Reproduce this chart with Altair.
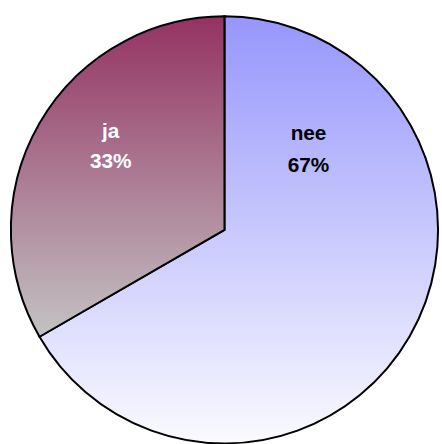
import altair as alt
import pandas as pd

# Survey answers and their response counts
answers = ["nee", "ja"]
counts = [2, 1]
slice_order = [0, 1]

df = pd.DataFrame({"answer": answers, "count": counts, "order": slice_order})
total = df["count"].sum()
df["pct"] = (df["count"] / total * 100).round().astype(int)
df["label"] = [f"{a}\n{p}%" for a, p in zip(df["answer"], df["pct"])]

# Vertical gradients for the two slices
grad_nee = {
    "gradient": "linear", "x1": 0, "y1": 0, "x2": 0, "y2": 1,
    "stops": [{"offset": 0, "color": "#9696fc"}, {"offset": 1, "color": "#fafaff"}],
}
grad_ja = {
    "gradient": "linear", "x1": 0, "y1": 0, "x2": 0, "y2": 1,
    "stops": [{"offset": 0, "color": "#943262"}, {"offset": 1, "color": "#c3c3c3"}],
}

cx, cy, r = 227, 230, 216

base = alt.Chart(df)

pie = base.mark_arc(stroke="black", strokeWidth=2, radius=r, strokeJoin="miter").encode(
    theta=alt.Theta("count:Q", stack=True),
    order=alt.Order("order:Q"),
    fill=alt.condition(alt.datum.answer == "nee", alt.value(grad_nee), alt.value(grad_ja)),
    x=alt.value(cx),
    y=alt.value(cy),
)

text_style = dict(font="Liberation Sans", fontSize=21, fontWeight="bold",
                  lineBreak="\n", align="center", baseline="alphabetic")

label_nee = base.transform_filter(alt.datum.answer == "nee").mark_text(
    color="black", lineHeight=32, **text_style
).encode(text="label:N", x=alt.value(312), y=alt.value(139))

label_ja = base.transform_filter(alt.datum.answer == "ja").mark_text(
    color="white", lineHeight=30, **text_style
).encode(text="label:N", x=alt.value(112), y=alt.value(137))

chart = (
    alt.layer(pie, label_nee, label_ja)
    .properties(width=442, height=444, padding=0, background="white")
    .configure_view(stroke=None)
)

chart.save("out.html", embed_options={"renderer": "svg", "actions": False})
